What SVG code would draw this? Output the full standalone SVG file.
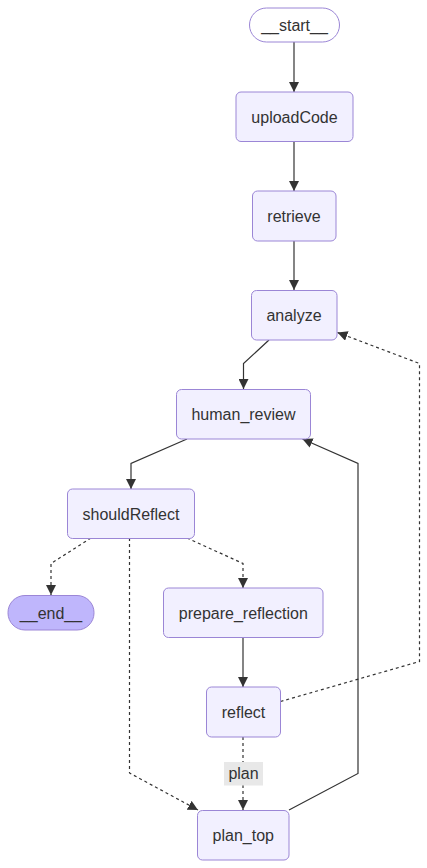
<svg xmlns="http://www.w3.org/2000/svg" width="427" height="868" viewBox="0 0 427 868">
<defs>
<marker id="arr" viewBox="0 0 10 10" refX="10" refY="5" markerUnits="userSpaceOnUse" markerWidth="10" markerHeight="10" orient="auto">
<path d="M0,0 L10,5 L0,10 z" fill="#333"/>
</marker>
<style>
.node{fill:#f2f0ff;stroke:#9b86d6;stroke-width:1}
.first{fill:#ffffff;stroke:#9b86d6;stroke-width:1}
.last{fill:#bfb6fc;stroke:#9b86d6;stroke-width:1}
.lbl{font-family:"Liberation Sans",Arial,sans-serif;font-size:16px;fill:#333;text-anchor:middle}
.e{fill:none;stroke:#333;stroke-width:1.2}
.d{fill:none;stroke:#333;stroke-width:1.2;stroke-dasharray:3 3}
</style>
</defs>
<rect width="427" height="868" fill="#ffffff"/>
<g id="edges">
<path class="e" d="M294,42 L294,92" marker-end="url(#arr)"/>
<path class="e" d="M294,141 L294,191" marker-end="url(#arr)"/>
<path class="e" d="M294,241 L294,290" marker-end="url(#arr)"/>
<path class="e" d="M269,340 L243.5,363.5 L243.5,389" marker-end="url(#arr)"/>
<path class="e" d="M187,439 L131,463.5 L131,489" marker-end="url(#arr)"/>
<path class="d" d="M91,538 L51,563.5 L51,595" marker-end="url(#arr)"/>
<path class="d" d="M187,538 L243,563.5 L243,588" marker-end="url(#arr)"/>
<path class="d" d="M129.5,538 L129.5,773 L198,810" marker-end="url(#arr)"/>
<path class="e" d="M243,637 L243,687" marker-end="url(#arr)"/>
<path class="d" d="M243,737 L243,810" marker-end="url(#arr)"/>
<path class="d" d="M280.5,701.5 L419.5,661.5 L419.5,363.5 L337.5,332.5" marker-end="url(#arr)"/>
<path class="e" d="M289,810 L358,773.5 L358,463.5 L302.5,439" marker-end="url(#arr)"/>
<g id="edge-label-plan">
<rect x="224" y="762" width="39" height="23.5" fill="#e8e8e8"/>
<text class="lbl" x="243.5" y="779">plan</text>
</g>
</g>
<g id="start"><rect class="first" x="249.5" y="8" width="90" height="34" rx="17" ry="17"/><text class="lbl" x="294.5" y="30.5">__start__</text></g>
<g id="uploadCode"><rect class="node" x="236" y="92" width="117" height="49.5" rx="5" ry="5"/><text class="lbl" x="294.5" y="122.5">uploadCode</text></g>
<g id="retrieve"><rect class="node" x="252.5" y="191" width="83.5" height="50" rx="5" ry="5"/><text class="lbl" x="294" y="221.5">retrieve</text></g>
<g id="analyze"><rect class="node" x="251.5" y="290.5" width="85.5" height="49.5" rx="5" ry="5"/><text class="lbl" x="294" y="321">analyze</text></g>
<g id="human_review"><rect class="node" x="176.5" y="389.5" width="134" height="49.5" rx="5" ry="5"/><text class="lbl" x="243.5" y="420">human_review</text></g>
<g id="shouldReflect"><rect class="node" x="67.5" y="489" width="127" height="49.5" rx="5" ry="5"/><text class="lbl" x="131" y="519.5">shouldReflect</text></g>
<g id="end"><rect class="last" x="8" y="595.5" width="86" height="34.5" rx="17" ry="17"/><text class="lbl" x="51" y="618.5">__end__</text></g>
<g id="prepare_reflection"><rect class="node" x="163.5" y="588" width="159.5" height="49.5" rx="5" ry="5"/><text class="lbl" x="243.3" y="618.5">prepare_reflection</text></g>
<g id="reflect"><rect class="node" x="206.5" y="687" width="74" height="50" rx="5" ry="5"/><text class="lbl" x="243.5" y="717.5">reflect</text></g>
<g id="plan_top"><rect class="node" x="197.5" y="810.5" width="91.5" height="49.5" rx="5" ry="5"/><text class="lbl" x="243.3" y="841">plan_top</text></g>
</svg>
